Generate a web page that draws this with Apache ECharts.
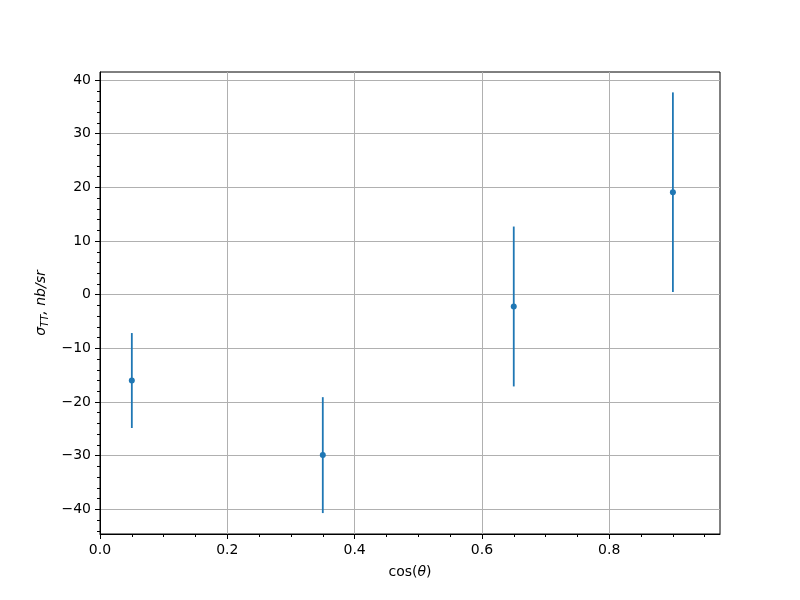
<!DOCTYPE html>
<html>
<head>
<meta charset="utf-8">
<script src="https://cdn.jsdelivr.net/npm/echarts@6/dist/echarts.min.js"></script>
<style>html,body{margin:0;padding:0;background:#fff}#chart{width:800px;height:600px}</style>
</head>
<body>
<div id="chart"></div>
<script>
// Data
const cosTheta = [0.05, 0.35, 0.65, 0.9];
const sigmaTT = [-16.0, -29.9, -2.2, 19.1];
const sigmaErr = [8.85, 10.8, 14.9, 18.6];
// Ticks
const xMajorTicks = [0, 0.2, 0.4, 0.6, 0.8];
const xMinorTicks = [0.05, 0.1, 0.15, 0.25, 0.3, 0.35, 0.45, 0.5, 0.55, 0.65, 0.7, 0.75, 0.85, 0.9, 0.95];
const yMajorTicks = [-40, -30, -20, -10, 0, 10, 20, 30, 40];
const yMinorTicks = [-44, -42, -38, -36, -34, -32, -28, -26, -24, -22, -18, -16, -14, -12, -8, -6, -4, -2, 2, 4, 6, 8, 12, 14, 16, 18, 22, 24, 26, 28, 32, 34, 36, 38];
const xRange = [0, 0.974];
const yRange = [-44.6, 41.5];

const FONT = 'DejaVu Sans';
const BLUE = '#1f77b4';
const chart = echarts.init(document.getElementById('chart'), null, {renderer: 'canvas'});

const option = {
  animation: false,
  backgroundColor: '#fff',
  grid: {left: 100, top: 72, right: 80, bottom: 66, show: true, borderColor: '#000', borderWidth: 1, backgroundColor: 'transparent'},
  xAxis: [
    {
      type: 'value', min: xRange[0], max: xRange[1], position: 'bottom',
      axisLine: {show: true, onZero: false, lineStyle: {color: '#000', width: 1}},
      axisTick: {show: true, length: 5, customValues: xMajorTicks, lineStyle: {color: '#000', width: 1}},
      splitLine: {show: true, lineStyle: {color: '#b0b0b0', width: 1}},
      axisLabel: {color: '#000', fontFamily: FONT, fontSize: 14, margin: 9, customValues: xMajorTicks,
        formatter: v => v.toFixed(1)},
      name: '{n|cos(}{i|θ}{n|)}', nameLocation: 'middle', nameGap: 31,
      nameTextStyle: {
        color: '#000', fontFamily: FONT, fontSize: 14,
        rich: {
          n: {fontFamily: FONT, fontSize: 14, color: '#000'},
          i: {fontFamily: FONT, fontStyle: 'italic', fontSize: 14, color: '#000'}
        }
      }
    },
    {
      type: 'value', min: xRange[0], max: xRange[1], position: 'bottom',
      axisLine: {show: false, onZero: false},
      axisTick: {show: true, length: 3, customValues: xMinorTicks, lineStyle: {color: '#000', width: 1}},
      axisLabel: {show: false},
      splitLine: {show: false}
    }
  ],
  yAxis: [
    {
      type: 'value', min: yRange[0], max: yRange[1], position: 'left',
      axisLine: {show: true, onZero: false, lineStyle: {color: '#000', width: 1}},
      axisTick: {show: true, length: 5, customValues: yMajorTicks, lineStyle: {color: '#000', width: 1}},
      splitLine: {show: true, lineStyle: {color: '#b0b0b0', width: 1}},
      axisLabel: {color: '#000', fontFamily: FONT, fontSize: 14, margin: 9, customValues: yMajorTicks,
        formatter: v => (v < 0 ? '\u2212' + Math.abs(v) : String(v))},
      name: '{i|σ}{sub|TT}{i|, nb/sr}', nameLocation: 'middle', nameGap: 47,
      nameTextStyle: {
        color: '#000', fontFamily: FONT, fontSize: 14,
        rich: {
          i: {fontFamily: FONT, fontStyle: 'italic', fontSize: 14, color: '#000'},
          sub: {fontFamily: FONT, fontStyle: 'italic', fontSize: 10, color: '#000', padding: [8, 0, 0, 0]}
        }
      }
    },
    {
      type: 'value', min: yRange[0], max: yRange[1], position: 'left',
      axisLine: {show: false, onZero: false},
      axisTick: {show: true, length: 3, customValues: yMinorTicks, lineStyle: {color: '#000', width: 1}},
      axisLabel: {show: false},
      splitLine: {show: false}
    }
  ],
  series: [
    {
      type: 'custom',
      xAxisIndex: 0, yAxisIndex: 0,
      data: cosTheta.map((x, i) => [x, sigmaTT[i], sigmaErr[i]]),
      renderItem: function (params, api) {
        const x = api.value(0), y = api.value(1), e = api.value(2);
        const p1 = api.coord([x, y - e]);
        const p2 = api.coord([x, y + e]);
        return {
          type: 'line',
          shape: {x1: p1[0], y1: p1[1], x2: p2[0], y2: p2[1]},
          style: {stroke: BLUE, lineWidth: 1.8}
        };
      },
      z: 3
    },
    {
      type: 'scatter',
      xAxisIndex: 0, yAxisIndex: 0,
      data: cosTheta.map((x, i) => [x, sigmaTT[i]]),
      symbol: 'circle', symbolSize: 6,
      itemStyle: {color: BLUE, opacity: 1},
      z: 4
    }
  ]
};
chart.setOption(option);
</script>
</body>
</html>
